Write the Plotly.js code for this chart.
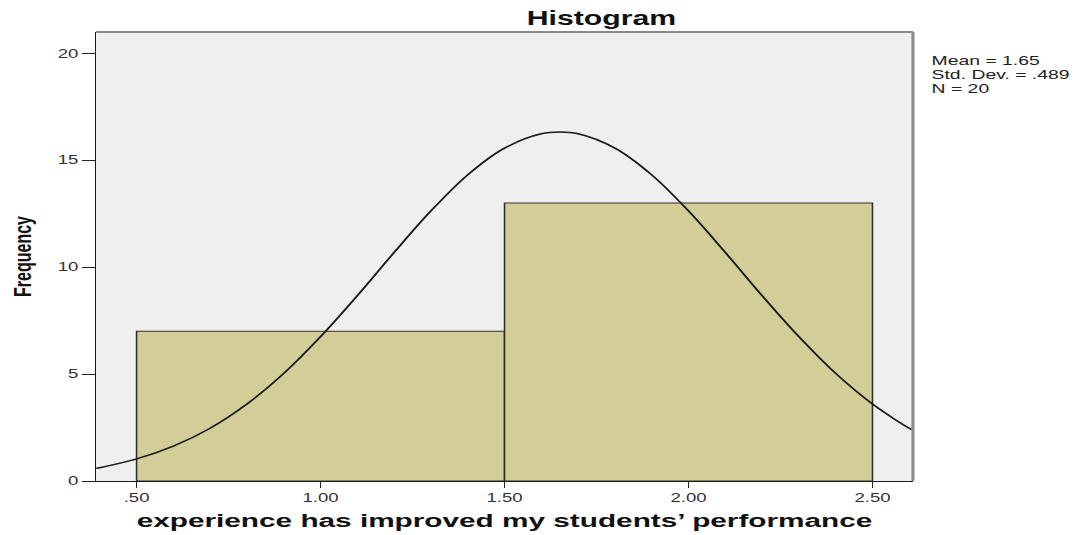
<!DOCTYPE html>
<html>
<head>
<meta charset="utf-8">
<script src="https://cdn.plot.ly/plotly-3.0.1.min.js"></script>
<style>
  html, body { margin: 0; padding: 0; background: #ffffff; overflow: hidden; }
  #chart { width: 702px; height: 535px; transform: scaleX(1.55); transform-origin: 0 0; }
</style>
</head>
<body>
<div id="chart"></div>
<script>
// Histogram bins (centres) and frequencies
const binCenters = [1.0, 2.0];
const frequencies = [7, 13];

// Normal curve (x, frequency)
const curveX = [0.39, 0.4, 0.5, 0.6, 0.7, 0.8, 0.9, 1.0, 1.1, 1.2, 1.3, 1.4, 1.5, 1.6, 1.65,
                1.7, 1.8, 1.9, 2.0, 2.1, 2.2, 2.3, 2.4, 2.5, 2.6, 2.61];
const curveY = [0.59, 0.62, 1.03, 1.63, 2.47, 3.60, 5.03, 6.75, 8.67, 10.69, 12.63, 14.32, 15.57, 16.24, 16.32,
                16.24, 15.57, 14.32, 12.63, 10.69, 8.67, 6.75, 5.03, 3.60, 2.47, 2.39];

// Axis ticks
const xTickVals = [0.5, 1.0, 1.5, 2.0, 2.5];
const xTickText = ['.50', '1.00', '1.50', '2.00', '2.50'];
const yTickVals = [0, 5, 10, 15, 20];

// Statistics box
const statLines = ['Mean = 1.65', 'Std. Dev. = .489', 'N = 20'];

const FONT = 'Arial, "Liberation Sans", sans-serif';

const traces = [
  {
    type: 'bar',
    x: binCenters,
    y: frequencies,
    width: [1, 1],
    marker: { color: '#d3ce98', line: { color: '#2e2e2e', width: 1 } },
    hoverinfo: 'x+y',
    showlegend: false
  },
  {
    type: 'scatter',
    mode: 'lines',
    x: curveX,
    y: curveY,
    line: { color: '#1a1a1a', width: 1.4, shape: 'spline', smoothing: 1 },
    showlegend: false,
    hoverinfo: 'skip'
  }
];

const H = 535;
const lineYs = [61, 75, 89];
const annotations = statLines.map((t, i) => ({
  text: t,
  xref: 'paper', yref: 'paper',
  x: 1.0184, y: 1 - (lineYs[i] - 32) / 449,
  xanchor: 'left', yanchor: 'middle',
  showarrow: false,
  font: { family: FONT, size: 12.5, color: '#222222' }
}));

const layout = {
  width: 702,
  height: 535,
  margin: { l: 61.6, r: 113, t: 32, b: 54 },
  paper_bgcolor: '#ffffff',
  plot_bgcolor: '#efefef',
  bargap: 0,
  title: {
    text: '<b>Histogram</b>',
    xref: 'container', yref: 'container',
    x: 388 / 702, xanchor: 'center',
    y: 1 - 18 / H, yanchor: 'middle',
    font: { family: FONT, size: 19.5, color: '#111111' }
  },
  xaxis: {
    range: [0.39, 2.61],
    tickmode: 'array',
    tickvals: xTickVals,
    ticktext: xTickText,
    ticks: 'outside', ticklen: 6, tickwidth: 1, tickcolor: '#222222',
    showline: true, linecolor: '#1a1a1a', linewidth: 1,
    showgrid: false, zeroline: false,
    tickfont: { family: FONT, size: 12, color: '#333333' },
    title: {
      text: '<b>experience has improved my students’ performance</b>',
      font: { family: FONT, size: 19.2, color: '#111111' },
      standoff: 9
    }
  },
  yaxis: {
    range: [0, 21.0],
    tickmode: 'array',
    tickvals: yTickVals,
    ticks: 'outside', ticklen: 8, tickwidth: 1, tickcolor: '#222222',
    showline: true, linecolor: '#1a1a1a', linewidth: 1,
    showgrid: false, zeroline: false,
    tickfont: { family: FONT, size: 12, color: '#333333' },
    title: {
      text: '<b>Frequency</b>',
      font: { family: FONT, size: 16, color: '#111111' },
      standoff: 12
    }
  },
  shapes: [
    { type: 'line', xref: 'paper', yref: 'paper', x0: 0, x1: 1, y0: 1, y1: 1,
      line: { color: '#8a8a8a', width: 2 } },
    { type: 'line', xref: 'paper', yref: 'paper', x0: 1, x1: 1, y0: 0, y1: 1,
      line: { color: '#8a8a8a', width: 2 } }
  ],
  annotations: annotations
};

Plotly.newPlot('chart', traces, layout, { displayModeBar: false, staticPlot: true });
</script>
</body>
</html>
